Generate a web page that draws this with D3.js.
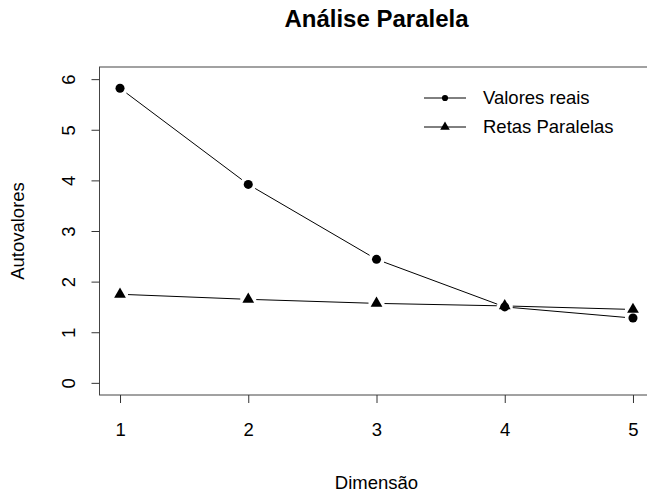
<!DOCTYPE html>
<html lang="pt">
<head>
<meta charset="UTF-8">
<title>Análise Paralela</title>
<style>
  body { margin: 0; background: #fff; }
  svg text { font-family: "Liberation Sans", Arial, sans-serif; fill: #000; }
</style>
</head>
<body>
<svg id="chart" width="647" height="493"></svg>
<script src="https://d3js.org/d3.v7.min.js"></script>
<script>
const dims = [1, 2, 3, 4, 5];
const valoresReais = [5.82, 3.92, 2.44, 1.50, 1.28];
const retasParalelas = [1.75, 1.65, 1.57, 1.52, 1.45];
const yTicks = [0, 1, 2, 3, 4, 5, 6];
const legendLabels = ["Valores reais", "Retas Paralelas"];

const width = 647, height = 493;
const box = { left: 99.5, right: 653.5, top: 67, bottom: 395 };
const fontSize = "18.5px";

const svg = d3.select("#chart");

// R style 4% padding on both axes
const x = d3.scaleLinear().domain([0.84, 5.16]).range([box.left, box.right]);
const y = d3.scaleLinear().domain([-0.24, 6.24]).range([box.bottom, box.top]);

// plot box
svg.append("rect")
  .attr("x", box.left).attr("y", box.top)
  .attr("width", box.right - box.left).attr("height", box.bottom - box.top)
  .attr("fill", "none").attr("stroke", "#444").attr("stroke-width", 1);

// x axis
const xAxis = svg.append("g")
  .attr("transform", `translate(0,${box.bottom})`)
  .call(d3.axisBottom(x).tickValues(dims).tickSize(8).tickPadding(20).tickFormat(d3.format("d")));
xAxis.select(".domain").remove();
xAxis.selectAll("line").attr("stroke", "#333");
xAxis.selectAll("text").style("font-size", fontSize).style("font-family", "Liberation Sans, Arial, sans-serif");

// y axis with rotated labels
const yAxis = svg.append("g")
  .attr("transform", `translate(${box.left},0)`)
  .call(d3.axisLeft(y).tickValues(yTicks).tickSize(8).tickFormat(d3.format("d")));
yAxis.select(".domain").remove();
yAxis.selectAll("line").attr("stroke", "#333");
yAxis.selectAll("text")
  .attr("x", null).attr("dy", null)
  .attr("transform", "translate(-31,0) rotate(-90)")
  .attr("text-anchor", "middle")
  .attr("dominant-baseline", "central")
  .style("font-size", fontSize).style("font-family", "Liberation Sans, Arial, sans-serif");

// titles
const cx = (box.left + box.right) / 2;
svg.append("text").attr("x", cx).attr("y", 27)
  .attr("text-anchor", "middle").style("font-size", "24px").style("font-weight", "bold")
  .text("Análise Paralela");
svg.append("text").attr("x", cx).attr("y", 489)
  .attr("text-anchor", "middle").style("font-size", fontSize)
  .text("Dimensão");
svg.append("text")
  .attr("transform", `translate(24,${(box.top + box.bottom) / 2}) rotate(-90)`)
  .attr("text-anchor", "middle").style("font-size", fontSize)
  .text("Autovalores");

// type="b": segments with gaps around points
const gap = 8;
function drawSeries(values, symbolType, size) {
  const pts = values.map((v, i) => [x(dims[i]), y(v)]);
  for (let i = 0; i < pts.length - 1; i++) {
    const [x1, y1] = pts[i], [x2, y2] = pts[i + 1];
    const len = Math.hypot(x2 - x1, y2 - y1);
    if (len <= 2 * gap) continue;
    const ux = (x2 - x1) / len, uy = (y2 - y1) / len;
    svg.append("line")
      .attr("x1", x1 + ux * gap).attr("y1", y1 + uy * gap)
      .attr("x2", x2 - ux * gap).attr("y2", y2 - uy * gap)
      .attr("stroke", "#000").attr("stroke-width", 1);
  }
  svg.selectAll(null).data(pts).enter().append("path")
    .attr("transform", d => `translate(${d[0]},${d[1]})`)
    .attr("d", d3.symbol().type(symbolType).size(size))
    .attr("fill", "#000");
}

drawSeries(valoresReais, d3.symbolCircle, 64);
drawSeries(retasParalelas, d3.symbolTriangle, 60);

// legend
const legend = svg.append("g");
const legendRows = [
  { label: legendLabels[0], type: d3.symbolCircle, size: 30, y: 98 },
  { label: legendLabels[1], type: d3.symbolTriangle, size: 40, y: 127 }
];
legendRows.forEach(r => {
  legend.append("line").attr("x1", 424).attr("x2", 466).attr("y1", r.y).attr("y2", r.y)
    .attr("stroke", "#000").attr("stroke-width", 1);
  legend.append("path").attr("transform", `translate(445,${r.y})`)
    .attr("d", d3.symbol().type(r.type).size(r.size)).attr("fill", "#000");
  legend.append("text").attr("x", 483).attr("y", r.y).attr("dy", "0.35em")
    .style("font-size", fontSize).text(r.label);
});
</script>
</body>
</html>
